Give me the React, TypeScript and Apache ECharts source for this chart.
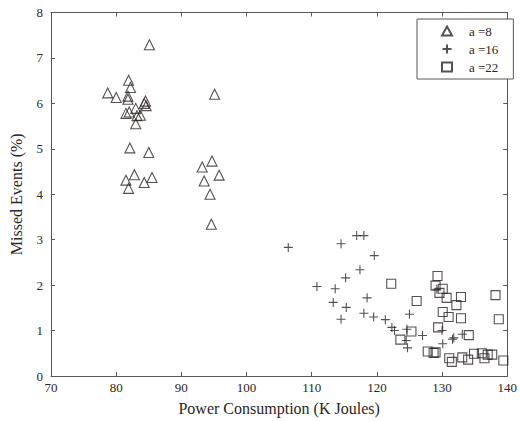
import React, { useEffect, useRef } from "react";
import * as echarts from "echarts";

const xTicks = [70, 80, 90, 100, 110, 120, 130, 140];
const seriesNames = ["a =8", "a =16", "a =22"];

const tri: [number, number][] = [
  [85.1, 7.29], [81.9, 6.51], [82.2, 6.35], [78.7, 6.23], [80.0, 6.13], [81.8, 6.16],
  [81.8, 6.09], [84.5, 6.05], [84.6, 5.95], [84.3, 6.0], [95.1, 6.2], [83.0, 5.89], [81.5, 5.78],
  [82.0, 5.81], [83.7, 5.74], [83.2, 5.73], [83.0, 5.55], [82.1, 5.02], [85.0, 4.92],
  [94.7, 4.73], [93.2, 4.6], [95.8, 4.42], [82.8, 4.43], [85.5, 4.37], [81.5, 4.31],
  [84.3, 4.26], [93.5, 4.29], [81.9, 4.13], [94.4, 4.0], [94.6, 3.34],
];

const plus: [number, number][] = [
  [106.4, 2.83], [110.8, 1.97], [114.5, 2.91], [116.9, 3.09], [118.0, 3.09], [119.6, 2.65],
  [117.4, 2.34], [115.2, 2.16], [113.6, 1.92], [113.3, 1.62], [115.3, 1.51], [118.5, 1.72],
  [114.5, 1.25], [118.0, 1.38], [119.5, 1.3], [121.3, 1.24], [122.3, 1.07], [122.7, 1.0],
  [124.6, 1.03], [125.0, 1.36], [124.5, 0.78], [124.7, 0.62], [127.0, 0.89], [129.2, 1.91],
  [130.1, 0.71], [131.6, 0.81], [131.8, 0.84], [133.1, 0.92], [130.0, 1.0],
];

const square: [number, number][] = [
  [122.2, 2.03], [129.3, 2.2], [129.0, 1.99], [130.1, 1.92], [129.6, 1.83], [130.7, 1.72],
  [132.9, 1.74], [132.2, 1.56], [126.1, 1.65], [138.2, 1.78], [138.7, 1.25], [130.1, 1.41],
  [131.0, 1.3], [132.9, 1.27], [125.3, 0.98], [129.4, 1.07], [123.6, 0.8], [134.1, 0.9],
  [127.8, 0.54], [128.7, 0.51], [129.0, 0.52], [131.1, 0.39], [131.5, 0.31], [133.1, 0.41],
  [134.0, 0.36], [134.9, 0.49], [136.1, 0.5], [136.5, 0.39], [137.0, 0.47], [137.7, 0.47],
  [139.4, 0.34],
];

const INK = "#2b2624";
const AXIS = "#5a5653";
const FONT = "'Liberation Serif', 'DejaVu Serif', serif";

export default function App() {
  const ref = useRef<HTMLDivElement>(null);
  useEffect(() => {
    if (!ref.current) return;
    const chart = echarts.init(ref.current, null, { renderer: "svg" });
    const axisCommon = {
      axisLine: { show: true, onZero: false, lineStyle: { color: AXIS, width: 1 } },
      axisTick: { show: true, inside: true, length: 4, lineStyle: { color: AXIS } },
      splitLine: { show: false },
    };
    const mk = (name: string, data: [number, number][], symbol: string, size: number) => ({
      name,
      type: "scatter",
      data,
      symbol,
      symbolSize: size,
      itemStyle: { color: "rgba(0,0,0,0)", borderColor: INK, borderWidth: 1.1 },
    });
    chart.setOption({
      animation: false,
      backgroundColor: "#fff",
      textStyle: { fontFamily: FONT },
      grid: { left: 48, right: 5, top: 12.5, bottom: 42 },
      legend: {
        orient: "vertical",
        left: 417,
        top: 19,
        padding: [5, 15, 5, 24],
        borderColor: AXIS,
        borderWidth: 1,
        backgroundColor: "#fff",
        itemWidth: 10,
        itemHeight: 9,
        itemGap: 4,
        textStyle: { fontFamily: FONT, fontSize: 13, color: INK, lineHeight: 14, padding: [0, 0, 0, 12] },
        data: seriesNames,
      },
      xAxis: [
        {
          type: "value",
          min: 70,
          max: 140,
          interval: 10,
          position: "bottom",
          name: "Power Consumption (K Joules)",
          nameLocation: "middle",
          nameGap: 24,
          nameTextStyle: { fontFamily: FONT, fontSize: 16, color: INK },
          axisLabel: {
            fontFamily: FONT,
            fontSize: 13,
            color: INK,
            margin: 5,
            formatter: (v: number) => (xTicks.includes(v) ? String(v) : ""),
          },
          ...axisCommon,
        },
        {
          type: "value",
          min: 70,
          max: 140,
          interval: 10,
          position: "top",
          axisLabel: { show: false },
          ...axisCommon,
        },
      ],
      yAxis: [
        {
          type: "value",
          min: 0,
          max: 8,
          interval: 1,
          position: "left",
          name: "Missed Events (%)",
          nameLocation: "middle",
          nameGap: 27,
          nameTextStyle: { fontFamily: FONT, fontSize: 16, color: INK },
          axisLabel: { fontFamily: FONT, fontSize: 13, color: INK, margin: 8 },
          ...axisCommon,
        },
        {
          type: "value",
          min: 0,
          max: 8,
          interval: 1,
          position: "right",
          axisLabel: { show: false },
          ...axisCommon,
        },
      ],
      series: [
        mk(seriesNames[0], tri, "triangle", 10),
        mk(seriesNames[1], plus, "path://M0,5L10,5M5,0L5,10", 9),
        mk(seriesNames[2], square, "rect", 9),
      ],
    });
    return () => chart.dispose();
  }, []);
  return <div ref={ref} style={{ width: 520, height: 421, position: "absolute", left: 0, top: 0 }} />;
}
